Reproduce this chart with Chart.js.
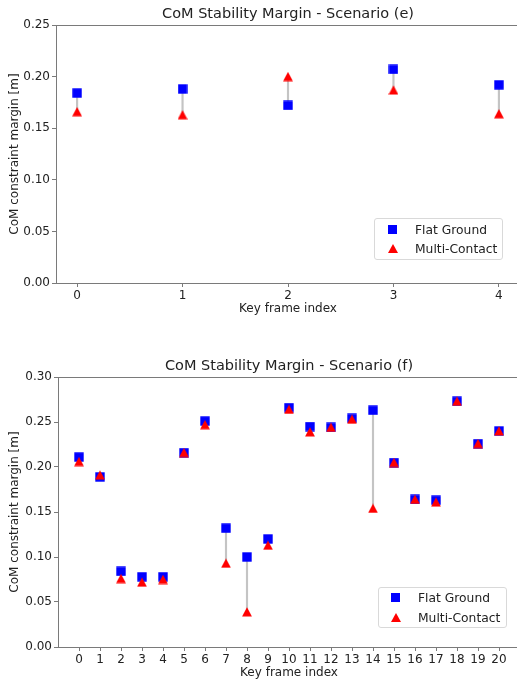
<!DOCTYPE html>
<html>
<head>
<meta charset="utf-8">
<script src="https://cdn.jsdelivr.net/npm/chart.js@4.4.1/dist/chart.umd.min.js"></script>
<style>
  html, body { margin: 0; padding: 0; background: #fff; width: 517px; height: 679px; overflow: hidden; }
  .panel { position: absolute; left: 0; width: 522px; }
  .legend { position: absolute; box-sizing: border-box; border: 1px solid #d9d9d9; border-radius: 3px;
            background: rgba(255,255,255,.8); font: 12.3px "DejaVu Sans", sans-serif; color: #222; }
  .legend .row { position: absolute; white-space: nowrap; line-height: 14px; }
  .mk-sq { position: absolute; width: 9px; height: 9px; background: #0000ff; }
  .mk-tri { position: absolute; width: 0; height: 0; border-left: 5px solid transparent; border-right: 5px solid transparent; border-bottom: 9px solid #ff0000; }
</style>
</head>
<body>
<div class="panel" style="top:0;height:320px"><canvas id="chartE" width="522" height="320"></canvas></div>
<div class="panel" style="top:352px;height:332px"><canvas id="chartF" width="522" height="332"></canvas></div>

<div class="legend" style="left:374px;top:218px;width:129px;height:42px">
  <span class="mk-sq" style="left:13px;top:6px"></span><span class="row" style="left:40px;top:4px">Flat Ground</span>
  <span class="mk-tri" style="left:13px;top:25px"></span><span class="row" style="left:40px;top:23px">Multi-Contact</span>
</div>
<div class="legend" style="left:378px;top:587px;width:129px;height:41px">
  <span class="mk-sq" style="left:12px;top:5px"></span><span class="row" style="left:39px;top:3px">Flat Ground</span>
  <span class="mk-tri" style="left:12px;top:25px"></span><span class="row" style="left:39px;top:23px">Multi-Contact</span>
</div>

<script>
// ---- data: scenario (e) ----
const indexE = [0, 1, 2, 3, 4];
const flatE = [0.184, 0.188, 0.172, 0.207, 0.192];
const multiE = [0.166, 0.163, 0.200, 0.187, 0.164];
const yTicksE = [0, 0.05, 0.10, 0.15, 0.20, 0.25];

// ---- data: scenario (f) ----
const indexF = [0, 1, 2, 3, 4, 5, 6, 7, 8, 9, 10, 11, 12, 13, 14, 15, 16, 17, 18, 19, 20];
const flatF = [0.211, 0.189, 0.084, 0.078, 0.078, 0.216, 0.251, 0.132, 0.100, 0.120, 0.266,
               0.245, 0.244, 0.254, 0.263, 0.205, 0.164, 0.163, 0.273, 0.226, 0.240];
const multiF = [0.206, 0.191, 0.076, 0.072, 0.075, 0.216, 0.247, 0.093, 0.039, 0.113, 0.264,
                0.239, 0.244, 0.253, 0.154, 0.205, 0.164, 0.161, 0.273, 0.226, 0.240];
const yTicksF = [0, 0.05, 0.10, 0.15, 0.20, 0.25, 0.30];

const FONT = "'DejaVu Sans', sans-serif";
const TEXT = "#222";
const SPINE = "#7a7a7a";

const markerCanvas = (draw) => {
  const c = document.createElement("canvas");
  c.width = 10; c.height = 10;
  draw(c.getContext("2d"));
  return c;
};
const squareImg = markerCanvas((ctx) => { ctx.fillStyle = "#0000ff"; ctx.fillRect(0.3, 0.3, 9.4, 9.4); });
const triangleImg = markerCanvas((ctx) => {
  ctx.fillStyle = "#ff0000";
  ctx.beginPath(); ctx.moveTo(5, 0.3); ctx.lineTo(9.9, 9.6); ctx.lineTo(0.1, 9.6); ctx.closePath(); ctx.fill();
});

const framePlugin = {
  id: "frame",
  afterDraw(chart) {
    const { ctx, chartArea: a } = chart;
    ctx.save();
    ctx.strokeStyle = SPINE;
    ctx.lineWidth = 1;
    ctx.beginPath();
    ctx.moveTo(a.left, Math.round(a.top) + 0.5);
    ctx.lineTo(a.right, Math.round(a.top) + 0.5);
    ctx.lineTo(a.right, a.bottom);
    ctx.stroke();
    ctx.restore();
  }
};

const axisFont = { family: FONT, size: 12 };

const buildChart = (canvas, { title, index, flat, multi, xMin, xMax, yTicks, axisWidth, padRight }) => new Chart(canvas, {
  type: "scatter",
  data: {
    datasets: [
      { type: "bar", data: index.map((x, i) => ({ x, y: [flat[i], multi[i]] })), backgroundColor: "#c4c4c4", barThickness: 1.5, order: 3 },
      { label: "Flat Ground", data: index.map((x, i) => ({ x, y: flat[i] })), pointStyle: squareImg, pointRadius: 5, order: 2 },
      { label: "Multi-Contact", data: index.map((x, i) => ({ x, y: multi[i] })), pointStyle: triangleImg, pointRadius: 5, order: 1 }
    ]
  },
  options: {
    responsive: false,
    animation: false,
    events: [],
    layout: { autoPadding: false, padding: { left: 0, right: padRight, top: 0, bottom: 0 } },
    plugins: {
      legend: { display: false },
      tooltip: { enabled: false },
      title: { display: true, text: title, fullSize: false, color: TEXT,
               font: { family: FONT, size: 14.5, weight: "normal", lineHeight: 1.2 }, padding: { top: 6, bottom: 1.6 } }
    },
    scales: {
      x: {
        type: "linear", min: xMin, max: xMax, offset: false,
        afterBuildTicks: (s) => { s.ticks = index.map((v) => ({ value: v })); },
        afterFit: (s) => { s.height = 37; },
        ticks: { color: TEXT, font: axisFont, padding: 2, maxRotation: 0, autoSkip: false },
        grid: { offset: false, drawOnChartArea: false, drawTicks: true, tickLength: 4, color: SPINE },
        border: { display: true, color: SPINE, width: 1 },
        title: { display: true, text: "Key frame index", color: TEXT, font: axisFont, padding: { top: 0, bottom: 4 } }
      },
      y: {
        min: 0, max: yTicks[yTicks.length - 1],
        afterBuildTicks: (s) => { s.ticks = yTicks.map((v) => ({ value: v })); },
        afterFit: (s) => { s.width = axisWidth; },
        ticks: { color: TEXT, font: axisFont, padding: 2, callback: (v) => Number(v).toFixed(2) },
        grid: { drawOnChartArea: false, drawTicks: true, tickLength: 4, color: SPINE },
        border: { display: true, color: SPINE, width: 1 },
        title: { display: true, text: "CoM constraint margin [m]", color: TEXT, font: axisFont, padding: { top: 7.5, bottom: 0 } }
      }
    }
  },
  plugins: [framePlugin]
});

buildChart(document.getElementById("chartE"), {
  title: "CoM Stability Margin - Scenario (e)",
  index: indexE, flat: flatE, multi: multiE,
  xMin: -0.2, xMax: 4.2, yTicks: yTicksE, axisWidth: 56, padRight: 2
});

buildChart(document.getElementById("chartF"), {
  title: "CoM Stability Margin - Scenario (f)",
  index: indexF, flat: flatF, multi: multiF,
  xMin: -1, xMax: 21, yTicks: yTicksF, axisWidth: 58, padRight: 2
});
</script>
</body>
</html>
